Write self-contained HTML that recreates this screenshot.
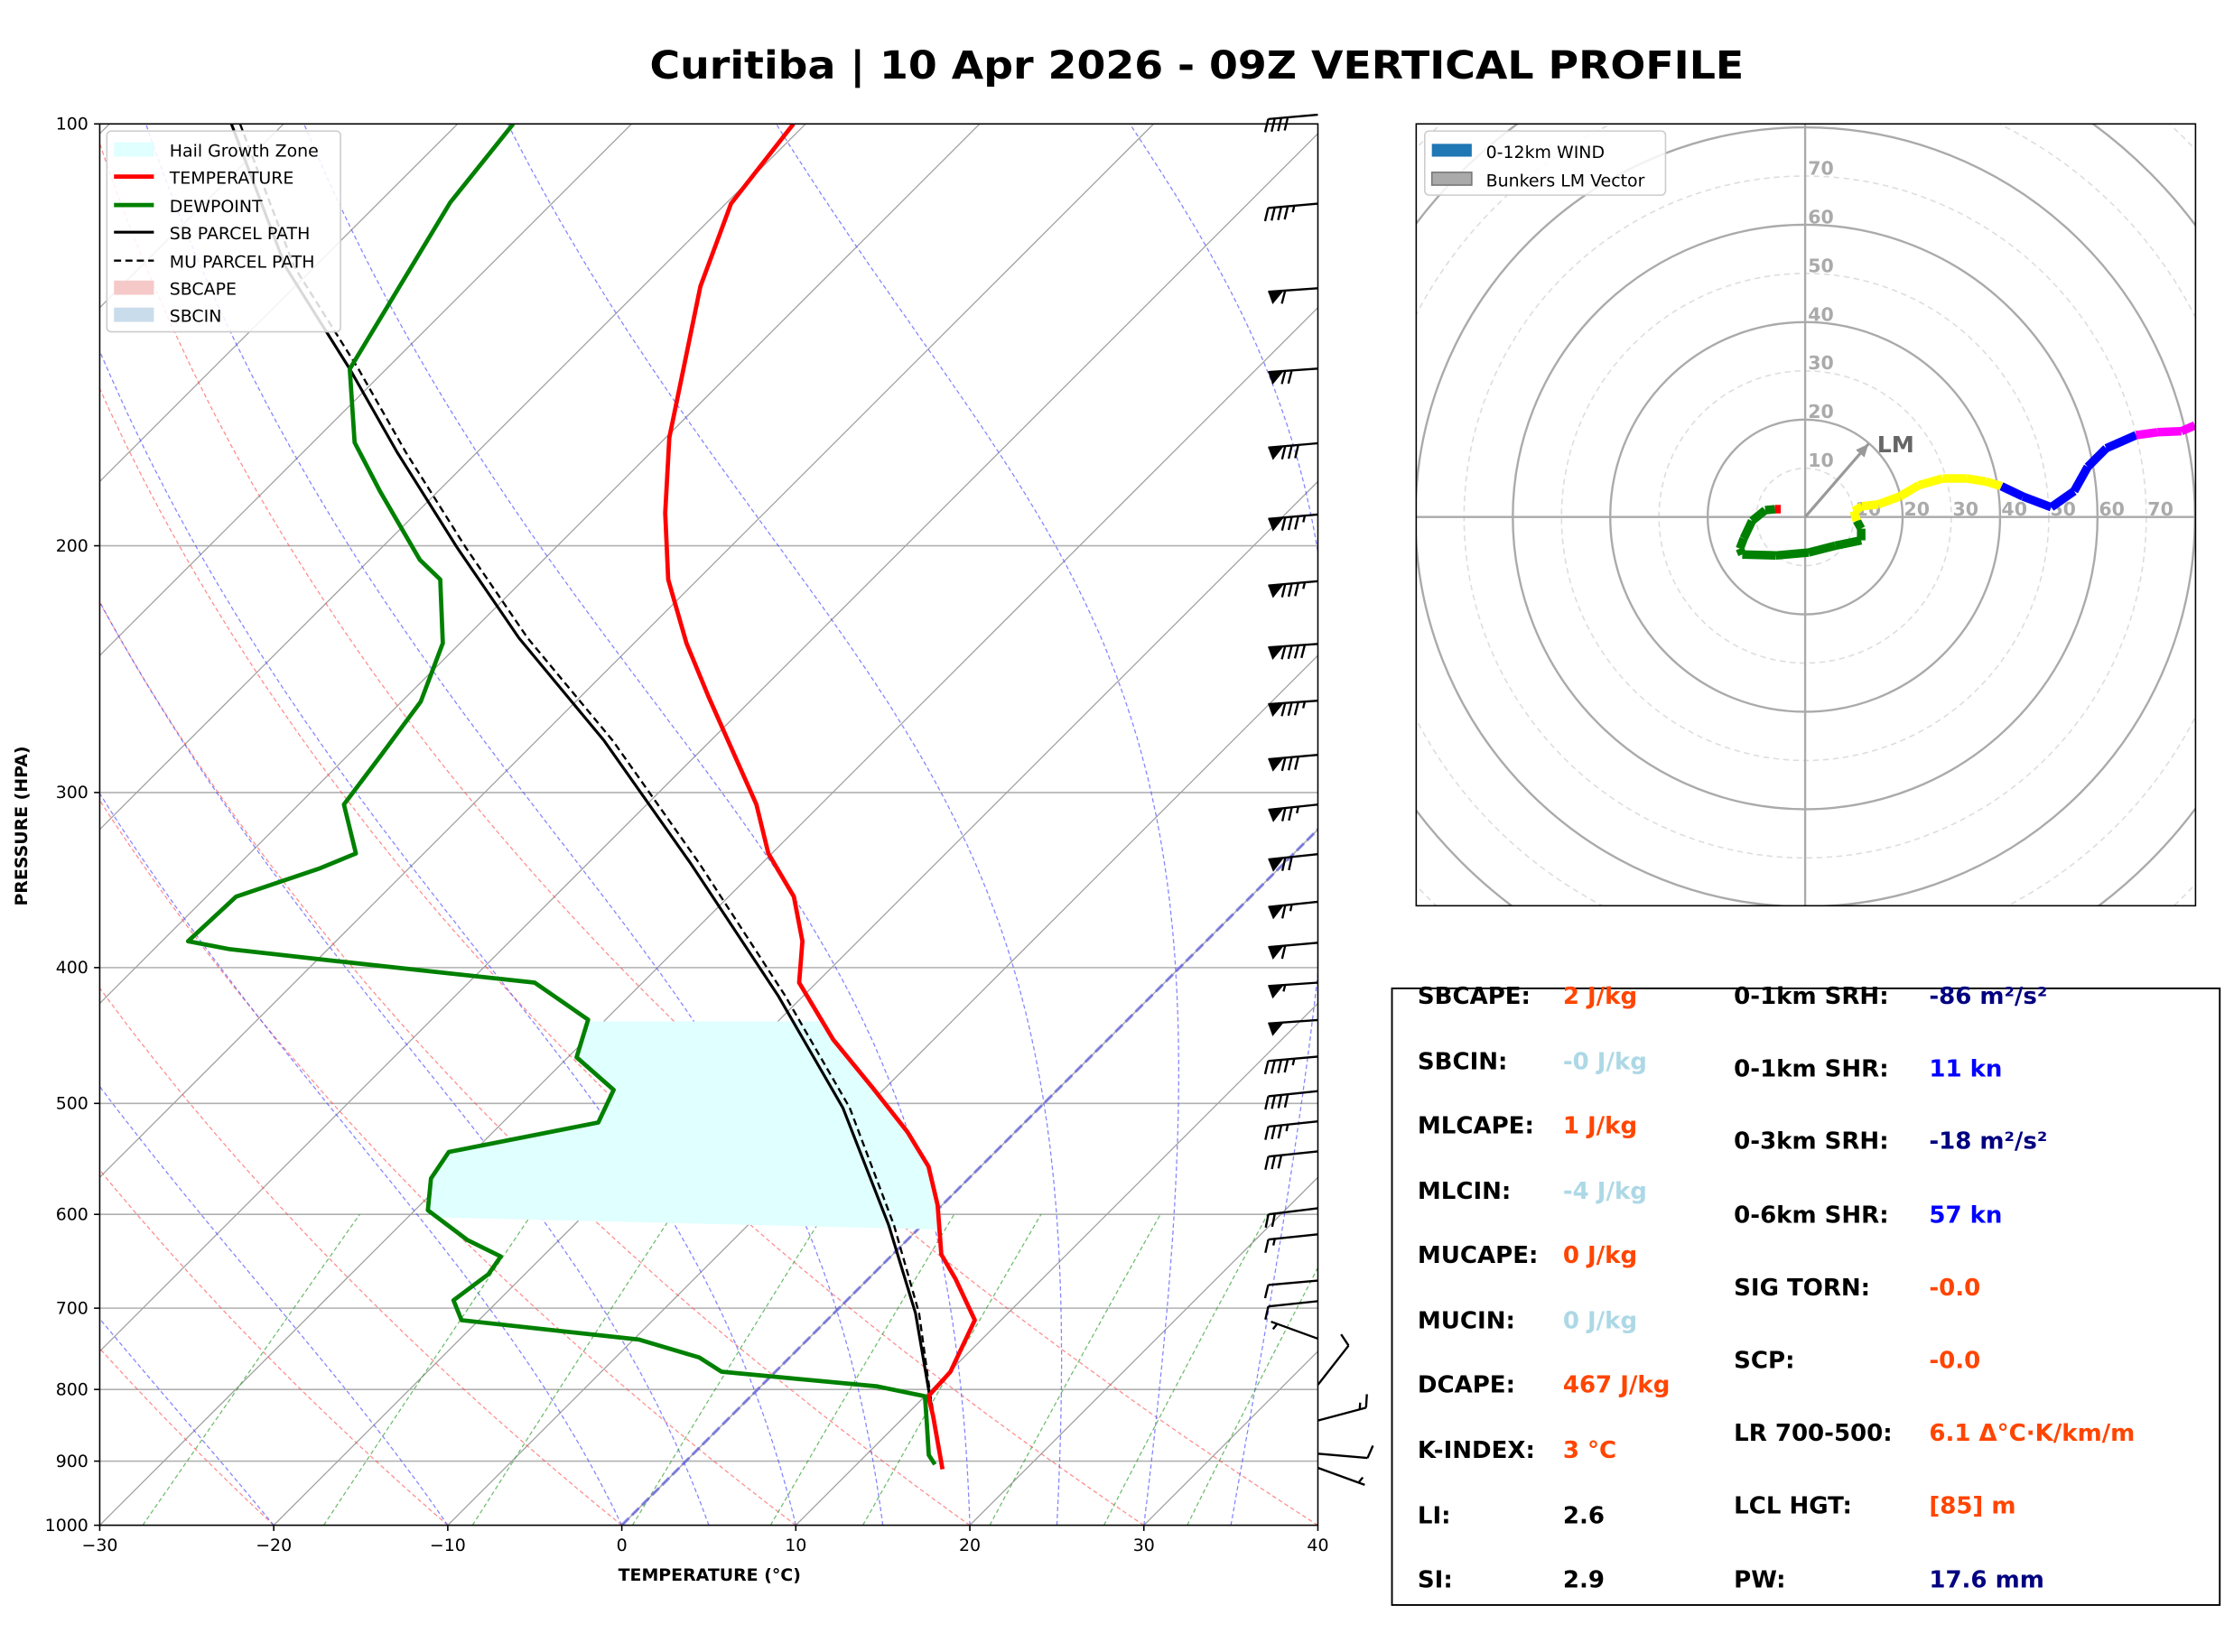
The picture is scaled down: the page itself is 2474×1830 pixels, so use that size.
<!DOCTYPE html>
<html><head><meta charset="utf-8">
<style>
html,body{margin:0;padding:0;background:#fff;}
svg{display:block;font-family:"DejaVu Sans","Liberation Sans",sans-serif;}
</style></head>
<body>
<svg id="fig" xmlns="http://www.w3.org/2000/svg" width="2474" height="1830" viewBox="0 0 1568 1160" preserveAspectRatio="none">
<defs>
<clipPath id="skewclip"><rect x="70" y="87" width="855" height="984"/></clipPath>
<clipPath id="hodoclip"><rect x="994" y="87" width="547" height="549"/></clipPath>
</defs>
<text x="840" y="55" text-anchor="middle" font-size="27" font-weight="bold" textLength="768" lengthAdjust="spacingAndGlyphs">Curitiba | 10 Apr 2026 - 09Z VERTICAL PROFILE</text>
<g id="skewbg" clip-path="url(#skewclip)"></g>
<g id="skewdata" clip-path="url(#skewclip)"></g>
<rect x="70" y="87" width="855" height="984" fill="none" stroke="#000" stroke-width="1"/>
<g id="skewaxes" font-size="12"></g>
<g id="barbs" stroke="#000" stroke-width="1.5" fill="#000"></g>
<text transform="translate(19,580) rotate(-90)" text-anchor="middle" font-size="12" font-weight="bold">PRESSURE (HPA)</text>
<text x="498" y="1110" text-anchor="middle" font-size="12" font-weight="bold">TEMPERATURE (°C)</text>
<g font-size="12">
<rect x="75" y="92" width="164" height="141" rx="3" fill="#fff" fill-opacity="0.85" stroke="#ccc"/>
<rect x="80" y="100" width="28" height="10" fill="#e0ffff"/>
<text x="119" y="110">Hail Growth Zone</text>
<line x1="80" y1="124" x2="108" y2="124" stroke="red" stroke-width="3"/>
<text x="119" y="129">TEMPERATURE</text>
<line x1="80" y1="144" x2="108" y2="144" stroke="green" stroke-width="3"/>
<text x="119" y="149">DEWPOINT</text>
<line x1="80" y1="163" x2="108" y2="163" stroke="#000" stroke-width="2"/>
<text x="119" y="168">SB PARCEL PATH</text>
<line x1="80" y1="183" x2="108" y2="183" stroke="#000" stroke-width="1.5" stroke-dasharray="5,3"/>
<text x="119" y="188">MU PARCEL PATH</text>
<rect x="80" y="197" width="28" height="10" fill="#f6c9c9"/>
<text x="119" y="207">SBCAPE</text>
<rect x="80" y="216" width="28" height="10" fill="#c9dcec"/>
<text x="119" y="226">SBCIN</text>
</g>
<g id="hodobg" clip-path="url(#hodoclip)"></g>
<g id="hododata" clip-path="url(#hodoclip)"></g>
<rect x="994" y="87" width="547" height="549" fill="none" stroke="#000" stroke-width="1"/>
<g font-size="12">
<rect x="1000" y="92" width="169" height="45" rx="3" fill="#fff" fill-opacity="0.85" stroke="#ccc"/>
<rect x="1005" y="101" width="28" height="9" fill="#1f77b4"/>
<text x="1043" y="111">0-12km WIND</text>
<rect x="1005" y="121" width="28" height="9" fill="#aaa" stroke="#777"/>
<text x="1043" y="131">Bunkers LM Vector</text>
</g>
<g font-size="16.5" font-weight="bold" dominant-baseline="middle">
<rect x="977" y="694" width="581" height="433" fill="none" stroke="#000" stroke-width="1.2"/>
<text x="995" y="700">SBCAPE:</text><text x="1097" y="700" fill="#ff4500">2 J/kg</text>
<text x="995" y="746">SBCIN:</text><text x="1097" y="746" fill="#add8e6">-0 J/kg</text>
<text x="995" y="791">MLCAPE:</text><text x="1097" y="791" fill="#ff4500">1 J/kg</text>
<text x="995" y="837">MLCIN:</text><text x="1097" y="837" fill="#add8e6">-4 J/kg</text>
<text x="995" y="882">MUCAPE:</text><text x="1097" y="882" fill="#ff4500">0 J/kg</text>
<text x="995" y="928">MUCIN:</text><text x="1097" y="928" fill="#add8e6">0 J/kg</text>
<text x="995" y="973">DCAPE:</text><text x="1097" y="973" fill="#ff4500">467 J/kg</text>
<text x="995" y="1019">K-INDEX:</text><text x="1097" y="1019" fill="#ff4500">3 °C</text>
<text x="995" y="1065">LI:</text><text x="1097" y="1065">2.6</text>
<text x="995" y="1110">SI:</text><text x="1097" y="1110">2.9</text>
<text x="1217" y="700">0-1km SRH:</text><text x="1354" y="700" fill="#000080">-86 m²/s²</text>
<text x="1217" y="751">0-1km SHR:</text><text x="1354" y="751" fill="#0000ff">11 kn</text>
<text x="1217" y="802">0-3km SRH:</text><text x="1354" y="802" fill="#000080">-18 m²/s²</text>
<text x="1217" y="854">0-6km SHR:</text><text x="1354" y="854" fill="#0000ff">57 kn</text>
<text x="1217" y="905">SIG TORN:</text><text x="1354" y="905" fill="#ff4500">-0.0</text>
<text x="1217" y="956">SCP:</text><text x="1354" y="956" fill="#ff4500">-0.0</text>
<text x="1217" y="1007">LR 700-500:</text><text x="1354" y="1007" fill="#ff4500">6.1 Δ°C·K/km/m</text>
<text x="1217" y="1058">LCL HGT:</text><text x="1354" y="1058" fill="#ff4500">[85] m</text>
<text x="1217" y="1110">PW:</text><text x="1354" y="1110" fill="#000080">17.6 mm</text>
</g>
</svg>
<script>
// ---- Skew-T data ----
const tempP=[100,114,130.6,167.4,189.5,211.4,234.7,256.3,306,331.6,356,383,410,450,487.6,524,554.6,591,641,667,714,777,809,835.6,912];
const tempT=[-70.7,-69.7,-66.7,-59.8,-55.7,-51.7,-47.0,-42.65,-33.7,-30.2,-26.25,-23.2,-21.0,-15.8,-10.7,-6.2,-3.0,-0.25,2.8,5.0,8.5,10.06,10.2,11.6,15.2];
const dewP=[100,113.8,149.6,168.8,183,204.7,211.4,234.7,258.4,282.3,306,331.6,339.7,356,383,388,395.8,410,435.7,463.5,489,516,541.6,565.6,596,625.6,643,662,691,714,737,759,777,796,809,842,891,905];
const dewT=[-86.8,-85.9,-82.1,-77.6,-73.3,-67.1,-64.8,-61.0,-58.9,-58.1,-57.4,-53.9,-55.1,-58.3,-58.5,-55.7,-48.8,-36.2,-31.0,-29.5,-25.5,-24.5,-31.4,-30.9,-29.25,-25.3,-22.4,-22.1,-22.6,-21.0,-9.7,-5.2,-3.1,6.7,10.0,11.5,13.6,14.5];
const sbParcelP=[100,126.4,149.6,171.5,200.5,232.8,275.6,337,418.6,503.6,610.9,706,802.5,912];
const sbParcelT=[-103,-91.7,-82.1,-74.6,-65.7,-56.9,-46.1,-34.1,-21.5,-11.3,-1.9,4.7,9.95,15.2];
const muParcelT=[-102.5,-91.2,-81.6,-74.1,-65.2,-56.4,-45.6,-33.6,-21.1,-10.9,-1.6,4.9,10.0,15.2];
const hailTopP=437, hailBotP=603;
const xTicks=[-30,-20,-10,0,10,20,30,40];
const pTicks=[100,200,300,400,500,600,700,800,900,1000];
// ---- wind barbs ----
const barbP=[98.5,114,131,149.5,169,190,212,235,258,282,306,332,359,384,410,436,463,490,515,541,594,620,669,692,736,794,842,889,910];
const barbSpd=[40,45,60,70,80,85,85,90,85,80,75,70,65,60,55,50,45,40,35,30,20,15,10,10,5,10,15,10,5];
const barbDir=[265,265,266,266,265,265,265,266,266,265,264,264,264,265,266,266,265,264,264,264,263,264,265,264,290,38,75,95,110];
// ---- hodograph ----
const hodoU=[-5.0,-6.2,-8.2,-10.9,-12.6,-13.4,-12.9,-6.0,0.7,6.2,11.5,11.5,10.6,10.0,11.7,15.0,19.4,23.3,28.2,33.2,37.0,40.3,44.7,50.5,55.2,58.0,61.8,67.9,72.3,77.2,80.0];
const hodoV=[1.6,1.6,1.4,-0.8,-4.4,-6.5,-7.7,-7.9,-7.3,-5.9,-4.8,-2.4,-0.8,1.2,2.2,2.6,4.2,6.5,7.9,7.9,7.3,6.3,4.2,2.0,5.3,10.3,14.1,16.8,17.4,17.6,18.8];
const hodoLayer=['red','green','green','green','green','green','green','green','green','green','green','green','yellow','yellow','yellow','yellow','yellow','yellow','yellow','yellow','yellow','blue','blue','blue','blue','blue','blue','magenta','magenta','magenta','magenta'];
const lmU=13.0, lmV=15.0;
const ringKts=[10,20,30,40,50,60,70,80,90,100,110,120];
const ringLabels=[10,20,30,40,50,60,70];

const NS='http://www.w3.org/2000/svg';
function mk(parent,tag,attrs){const e=document.createElementNS(NS,tag);for(const k in attrs)e.setAttribute(k,attrs[k]);parent.appendChild(e);return e;}
function yP(p){return 87+984*Math.log10(p/100);}
function xT(T,p){return 70+(T+30)*(855/70)+(1071-yP(p));}
function pts(P,T){return P.map((p,i)=>xT(T[i],p).toFixed(1)+','+yP(p).toFixed(1)).join(' ');}

const bg=document.getElementById('skewbg');
pTicks.forEach(p=>{
  const l=mk(bg,'line',{x1:70,x2:925,y1:yP(p),y2:yP(p),stroke:'#b0b0b0','stroke-width':1});
  
  
});
for(let T=-120;T<=40;T+=10){
  const l=mk(bg,'line',{x1:xT(T,1000),y1:yP(1000),x2:xT(T,100),y2:yP(100),stroke:'#a0a0a0','stroke-width':0.8});
  
  
}
for(let T0=-40;T0<=40;T0+=10){
  const a=[];for(let p=1000;p>=100;p-=10){const T=(T0+273.15)*Math.pow(p/1000,0.2857)-273.15;a.push(xT(T,p).toFixed(1)+','+yP(p).toFixed(1));}
  const l=mk(bg,'polyline',{points:a.join(' '),fill:'none',stroke:'#ff4040','stroke-opacity':0.6,'stroke-width':0.8,'stroke-dasharray':'3,2'});
  
  
}
function dTdp(p,T){const Rd=287.04,Lv=2.501e6,Cp=1005.7,eps=0.622;const Tc=T-273.15;const es=6.112*Math.exp(17.67*Tc/(Tc+243.5));const rs=eps*es/(p-es);return (Rd*T+Lv*rs)/(p*(Cp+Lv*Lv*rs*eps/(Rd*T*T)));}
[-40,-30,-20,-10,0,5,10,15,20,25,30,35,40].forEach(T0=>{
  let T=T0+273.15;const a=[];
  for(let p=1000;p>=100;p-=2){a.push(xT(T-273.15,p).toFixed(1)+','+yP(p).toFixed(1));T-=dTdp(p,T)*2;}
  const l=mk(bg,'polyline',{points:a.join(' '),fill:'none',stroke:'#5050ff','stroke-opacity':0.7,'stroke-width':0.8,'stroke-dasharray':'3,2'});
  
  
});
[0.0004,0.001,0.002,0.004,0.007,0.01,0.016,0.024,0.032].forEach(w=>{
  const a=[];for(let p=1000;p>=600;p-=20){const e=w*p/(0.622+w);const L=Math.log(e/6.112);const Td=243.5*L/(17.67-L);a.push(xT(Td,p).toFixed(1)+','+yP(p).toFixed(1));}
  const l=mk(bg,'polyline',{points:a.join(' '),fill:'none',stroke:'#30a030','stroke-opacity':0.7,'stroke-width':0.8,'stroke-dasharray':'3,2'});
  
  
});
{const l=mk(bg,'line',{x1:xT(0,1000),y1:yP(1000),x2:xT(0,100),y2:yP(100),stroke:'#6060e0','stroke-opacity':0.7,'stroke-width':2,'stroke-dasharray':'7,3'});

}

const sd=document.getElementById('skewdata');
function interp(P,T,p){for(let i=0;i<P.length-1;i++){if(p>=P[i]&&p<=P[i+1]){const f=Math.log(p/P[i])/Math.log(P[i+1]/P[i]);return T[i]+f*(T[i+1]-T[i]);}}return T[T.length-1];}
{const L=[],R=[];
 const lev=[hailTopP];tempP.concat(dewP).forEach(p=>{if(p>hailTopP&&p<hailBotP)lev.push(p);});lev.push(hailBotP);lev.sort((a,b)=>a-b);
 lev.forEach(p=>{L.push(xT(interp(dewP,dewT,p),p).toFixed(1)+','+yP(p).toFixed(1));});
 const lr=lev.slice().reverse();
 lr.forEach((p,i)=>{const pp=i===0?p+12:p;R.push(xT(interp(tempP,tempT,pp),pp).toFixed(1)+','+yP(pp).toFixed(1));});
 const g=mk(sd,'polygon',{points:L.concat(R).join(' '),fill:'#e0ffff'});
 
 }
{const l=mk(sd,'polyline',{points:pts(sbParcelP,muParcelT),fill:'none',stroke:'#000','stroke-width':1.5,'stroke-dasharray':'5,3','stroke-linejoin':'round'});

}
{const l=mk(sd,'polyline',{points:pts(sbParcelP,sbParcelT),fill:'none',stroke:'#000','stroke-width':2,'stroke-linejoin':'round'});

}
{const l=mk(sd,'polyline',{points:pts(tempP,tempT),fill:'none',stroke:'#ff0000','stroke-width':3,'stroke-linejoin':'round'});

}
{const l=mk(sd,'polyline',{points:pts(dewP,dewT),fill:'none',stroke:'#008000','stroke-width':3,'stroke-linejoin':'round'});

}

const ax=document.getElementById('skewaxes');
xTicks.forEach(t=>{
  const x=70+(t+30)*(855/70);
  mk(ax,'line',{x1:x,x2:x,y1:1071,y2:1075,stroke:'#000'});
  const tx=mk(ax,'text',{x:x,y:1089,'text-anchor':'middle'});
  tx.textContent=(t<0?'\u2212'+(-t):''+t);
  
  
});
pTicks.forEach(p=>{
  const y=yP(p);
  mk(ax,'line',{x1:66,x2:70,y1:y,y2:y,stroke:'#000'});
  const tx=mk(ax,'text',{x:62,y:y+4,'text-anchor':'end'});
  tx.textContent=''+p;
  
  
});

// wind barbs
const bb=document.getElementById('barbs');
barbP.forEach((p,i)=>{
  const g=mk(bb,'g',{});
  
  
  const ox=925,oy=yP(p),L=35,bl=9,sp=4.6;
  const d=barbDir[i]*Math.PI/180;
  const fx=Math.sin(d), fy=-Math.cos(d);
  const tx=ox+fx*L, ty=oy+fy*L;
  mk(g,'line',{x1:ox,y1:oy,x2:tx,y2:ty});
  const qx=fy, qy=-fx;
  let s=Math.round(barbSpd[i]/5)*5, pos=0;
  while(s>=50){
    const ax1=tx-fx*pos, ay1=ty-fy*pos, ax2=tx-fx*(pos+11), ay2=ty-fy*(pos+11);
    mk(g,'polygon',{points:ax1+','+ay1+' '+ax2+','+ay2+' '+(ax1+qx*bl-fx*2.5)+','+(ay1+qy*bl-fy*2.5),stroke:'none'});
    pos+=12;s-=50;
  }
  if(pos===0&&s<10&&s>0) pos=sp;
  while(s>=10){
    const bx=tx-fx*pos, by=ty-fy*pos;
    mk(g,'line',{x1:bx,y1:by,x2:bx+qx*bl+fx*3,y2:by+qy*bl+fy*3});
    pos+=sp;s-=10;
  }
  if(s>=5){
    const bx=tx-fx*pos, by=ty-fy*pos;
    mk(g,'line',{x1:bx,y1:by,x2:bx+qx*bl*0.5+fx*1.5,y2:by+qy*bl*0.5+fy*1.5});
  }
});

// hodograph
const HX=1267,HY=363,K=3.42;
const hb=document.getElementById('hodobg');
ringKts.forEach(r=>{
  const c=mk(hb,'circle',{cx:HX,cy:HY,r:r*K,fill:'none',stroke:r%20===0?'#aaaaaa':'#dddddd','stroke-width':r%20===0?1.5:1,'stroke-dasharray':r%20===0?'none':'4,3'});
  
  
});
mk(hb,'line',{x1:994,x2:1541,y1:HY,y2:HY,stroke:'#aaa','stroke-width':1.5});
mk(hb,'line',{x1:HX,x2:HX,y1:87,y2:636,stroke:'#aaa','stroke-width':1.5});
ringLabels.forEach(r=>{
  const a=mk(hb,'text',{x:HX+2,y:HY-r*K-1,'font-size':13,'font-weight':'bold',fill:'#aaaaaa','text-anchor':'start'});
  a.textContent=''+r;
  
  
  const b=mk(hb,'text',{x:HX+r*K+10,y:HY-1,'font-size':13,'font-weight':'bold',fill:'#aaaaaa','text-anchor':'middle'});
  b.textContent=''+r;
  
  
});
const hd=document.getElementById('hododata');
{const a=mk(hd,'line',{x1:HX,y1:HY,x2:HX+lmU*K,y2:HY-lmV*K,stroke:'#999','stroke-width':2});


const ex=HX+lmU*K, ey=HY-lmV*K, ang=Math.atan2(-lmV,lmU);
const h=mk(hd,'polygon',{points:ex+','+ey+' '+(ex-9*Math.cos(ang)+4*Math.sin(ang))+','+(ey-9*Math.sin(ang)-4*Math.cos(ang))+' '+(ex-9*Math.cos(ang)-4*Math.sin(ang))+','+(ey-9*Math.sin(ang)+4*Math.cos(ang)),fill:'#999'});


const t=mk(hd,'text',{x:ex+6,y:ey+6,'font-size':16,'font-weight':'bold',fill:'#666'});
t.textContent='LM';

}
for(let i=0;i<hodoU.length-1;i++){
  const s=mk(hd,'line',{x1:HX+hodoU[i]*K,y1:HY-hodoV[i]*K,x2:HX+hodoU[i+1]*K,y2:HY-hodoV[i+1]*K,stroke:hodoLayer[i]==='green'?'#008000':hodoLayer[i]==='magenta'?'#ff00ff':hodoLayer[i]==='blue'?'#0000ff':hodoLayer[i]==='yellow'?'#ffff00':'#ff0000','stroke-width':6,'stroke-linecap':'butt'});
  
  
}
</script>
</body></html>
